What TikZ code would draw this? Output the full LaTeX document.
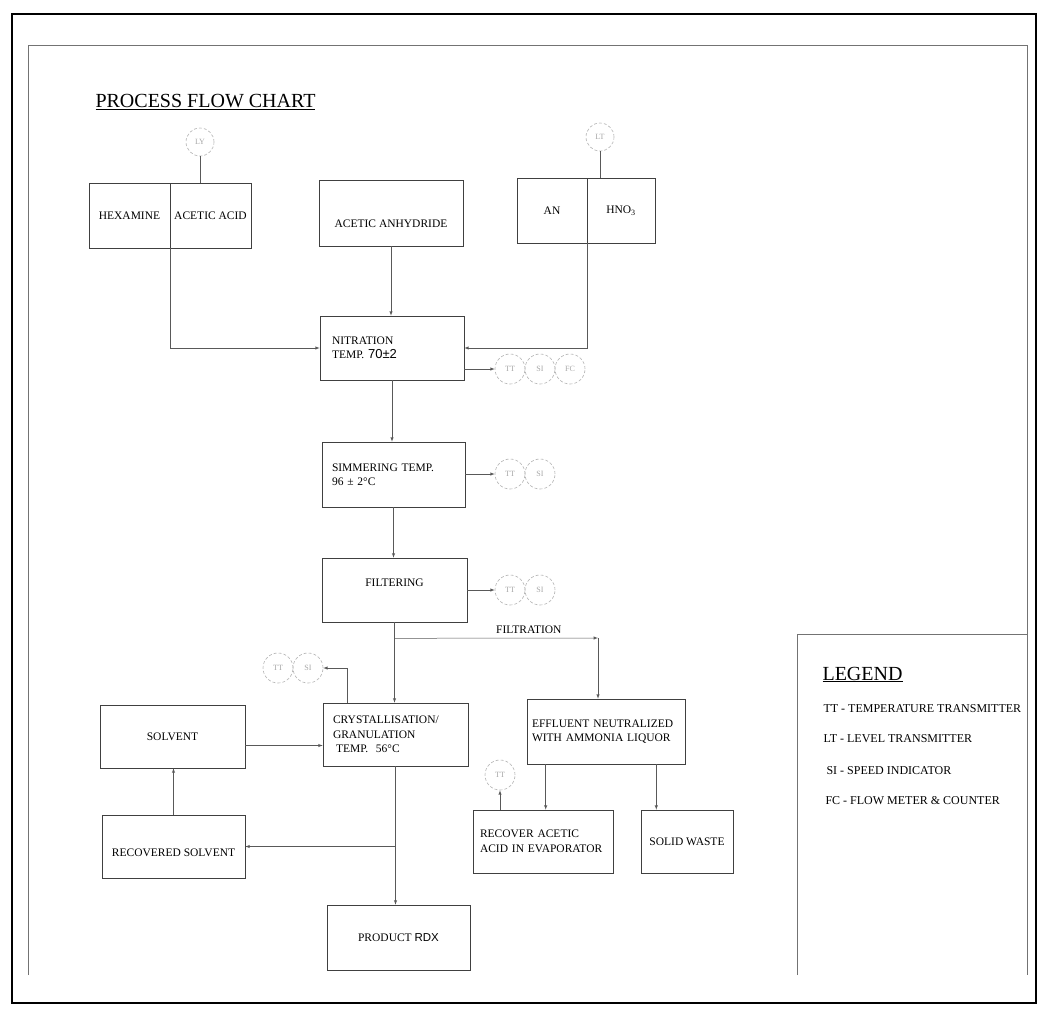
\documentclass[tikz,border=0pt]{standalone}
\usepackage{fontspec}
\setmainfont{Liberation Serif}
\setsansfont{Liberation Sans}
\begin{document}
\begin{tikzpicture}[x=1pt,y=-1pt,
		box/.style={draw=black!75,line width=0.6pt,inner sep=0pt,font=\fontsize{11.5}{14.5}\selectfont},
		inst/.style={circle,draw=black!30,densely dashed,line width=0.6pt,minimum size=30pt,inner sep=0pt,text=black!35,font=\fontsize{8}{8}\selectfont},
		flow/.style={draw=black!65,line width=0.5pt,->,>=latex},
		pipe/.style={draw=black!65,line width=0.5pt}]
		\useasboundingbox (0,0) rectangle (1043,1023);
		% frames
		\draw[line width=1.6pt] (12,14) rectangle (1036,1003);
		\draw[black!55,line width=0.6pt] (28,975) -- (28,45) -- (1027,45) -- (1027,975);
		\draw[black!55,line width=0.6pt] (797,975) -- (797,634) -- (1027,634);
		\node[anchor=base west,font=\fontsize{20}{24}\selectfont] (title) at (92,107) {\underline{PROCESS FLOW CHART}};
		% raw materials
		\node[box,minimum width=81pt,minimum height=65pt] (hexa) at (129.5,215.5) {HEXAMINE};
		\node[box,minimum width=81pt,minimum height=65pt] (acetic) at (210.5,215.5) {ACETIC ACID};
		\node[box,minimum width=144pt,minimum height=66pt] (anhyd) at (391,213) {\raisebox{-14pt}[0pt][0pt]{ACETIC ANHYDRIDE}};
		\node[box,minimum width=70pt,minimum height=65pt] (an) at (552,210.5) {AN};
		\node[box,minimum width=68pt,minimum height=65pt] (hno) at (621,210.5) {HNO\textsubscript{3}};
		\node[inst,minimum size=28pt] (ly) at (200,142) {LY};
		\node[inst,minimum size=28pt] (lt) at (600,137) {LT};
		\draw[pipe] (ly.south) -- (ly.south |- acetic.north);
		\draw[pipe] (lt.south) -- (lt.south |- hno.north);
		% main line
		\node[box,minimum width=144pt,minimum height=64pt,text width=120pt,align=left] (nitr) at (392,348) {NITRATION\\TEMP. {\sffamily\fontsize{13}{14}\selectfont 70±2}};
		\node[box,minimum width=143pt,minimum height=65pt,text width=123pt,align=left] (simm) at (393.5,474.5) {SIMMERING TEMP.\\96 ± 2°C};
		\node[box,minimum width=145pt,minimum height=64pt] (filt) at (394.5,590) {\raisebox{4pt}[0pt][0pt]{FILTERING}};
		\node[box,minimum width=145pt,minimum height=63pt,text width=125pt,align=left] (cryst) at (395.5,734.5) {CRYSTALLISATION/\\GRANULATION\\\hspace*{3pt}TEMP.\ \ 56°C};
		\node[box,minimum width=143pt,minimum height=65pt] (prod) at (398.5,937.5) {PRODUCT {\sffamily RDX}};
		\node[box,minimum width=145pt,minimum height=63pt] (solv) at (172.5,736.5) {SOLVENT};
		\node[box,minimum width=143pt,minimum height=63pt] (recsolv) at (173.5,846.5) {\raisebox{-10pt}[0pt][0pt]{RECOVERED SOLVENT}};
		\node[box,minimum width=158pt,minimum height=65pt,text width=148pt,align=left] (effl) at (606,731.5) {EFFLUENT NEUTRALIZED\\WITH AMMONIA LIQUOR};
		\node[box,minimum width=140pt,minimum height=63pt,text width=126pt,align=left] (recac) at (543,841.5) {RECOVER ACETIC\\ACID IN EVAPORATOR};
		\node[box,minimum width=92pt,minimum height=63pt] (solid) at (687,841.5) {SOLID WASTE};
		% instruments
		\node[inst] (nTT) at (510,369) {TT};
		\node[inst] (nSI) at (540,369) {SI};
		\node[inst] (nFC) at (570,369) {FC};
		\node[inst] (sTT) at (510,474) {TT};
		\node[inst] (sSI) at (540,474) {SI};
		\node[inst] (fTT) at (510,590) {TT};
		\node[inst] (fSI) at (540,590) {SI};
		\node[inst] (cTT) at (278,668) {TT};
		\node[inst] (cSI) at (308,668) {SI};
		\node[inst] (rTT) at (500,775) {TT};
		% connectors
		\draw[flow] (hexa.south east) |- (nitr.west);
		\draw[flow] (anhyd.south) -- (anhyd.south |- nitr.north);
		\draw[flow] (an.south east) |- (nitr.east);
		\draw[flow] (nitr.east |- nTT.west) -- (nTT.west);
		\draw[flow] (nitr.south) -- (nitr.south |- simm.north);
		\draw[flow] (simm.east |- sTT.west) -- (sTT.west);
		\draw[flow] (simm.south) -- (simm.south |- filt.north);
		\draw[flow] (filt.east |- fTT.west) -- (fTT.west);
		\draw[flow] (filt.south) -- (filt.south |- cryst.north);
		\coordinate (split) at ([yshift=-16pt]filt.south);
		\coordinate (turn) at (598,638);
		\draw[flow] (split) -- node[above=1pt,pos=0.66,font=\fontsize{11.5}{14}\selectfont] (filtration) {FILTRATION} (turn);
		\draw[flow] (turn) -- (turn |- effl.north);
		\draw[flow] ([xshift=-48.5pt]cryst.north) |- (cSI.east);
		\draw[flow] ([yshift=-9pt]solv.east) -- ([yshift=-9pt]solv.east -| cryst.west);
		\draw[flow] (cryst.south) -- (cryst.south |- prod.north);
		\draw[flow] (cryst.south |- recsolv.east) -- (recsolv.east);
		\draw[flow] (recsolv.north) -- (recsolv.north |- solv.south);
		\draw[flow] ([xshift=19pt]effl.south west) -- ([xshift=19pt]effl.south west |- recac.north);
		\draw[flow] ([xshift=-29pt]effl.south east) -- ([xshift=-29pt]effl.south east |- solid.north);
		\draw[flow] (rTT.south |- recac.north) -- (rTT.south);
		% legend
		\node[anchor=base west,font=\fontsize{20}{24}\selectfont] (legend) at (819,680) {\underline{LEGEND}};
		\node[anchor=base west,font=\fontsize{12}{14}\selectfont] (legtt) at (820,712) {TT - TEMPERATURE TRANSMITTER};
		\node[anchor=base west,font=\fontsize{12}{14}\selectfont] (leglt) at (820,742) {LT - LEVEL TRANSMITTER};
		\node[anchor=base west,font=\fontsize{12}{14}\selectfont] (legsi) at (823,774) {SI - SPEED INDICATOR};
		\node[anchor=base west,font=\fontsize{12}{14}\selectfont] (legfc) at (822,804) {FC - FLOW METER \& COUNTER};
\end{tikzpicture}
\end{document}
